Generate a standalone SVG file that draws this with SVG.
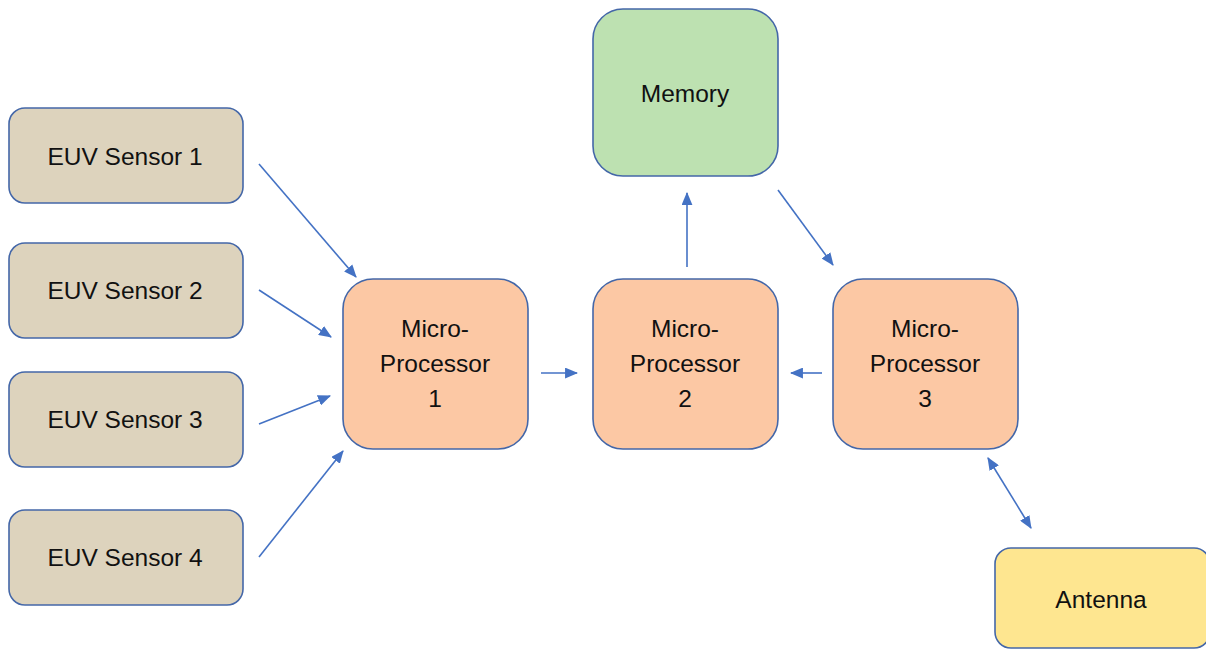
<svg xmlns="http://www.w3.org/2000/svg" width="1206" height="650" viewBox="0 0 1206 650">
  <style>
    .box { stroke: #4467A8; stroke-width: 1.6; }
    .sensor { fill: #DDD3BD; }
    .mp { fill: #FCC8A4; }
    .mem { fill: #BDE1B1; }
    .ant { fill: #FEE690; }
    .lbl { font-family: "Liberation Sans", Arial, sans-serif; font-size: 24.5px; fill: #111; text-anchor: middle; }
    .wire { stroke: #4472C4; stroke-width: 1.6; fill: none; }
  </style>
  <defs>
    <marker id="head" viewBox="0 0 12 10" refX="11" refY="5" markerWidth="13" markerHeight="11" markerUnits="userSpaceOnUse" orient="auto-start-reverse">
      <path d="M0,0 L12,5 L0,10 Z" fill="#4472C4"/>
    </marker>
  </defs>
  <rect width="1206" height="650" fill="#fff"/>

  <g id="sensor1">
    <rect class="box sensor" x="9" y="108" width="234" height="95" rx="16"/>
    <text class="lbl" x="125" y="165">EUV Sensor 1</text>
  </g>
  <g id="sensor2">
    <rect class="box sensor" x="9" y="243" width="234" height="95" rx="16"/>
    <text class="lbl" x="125" y="299">EUV Sensor 2</text>
  </g>
  <g id="sensor3">
    <rect class="box sensor" x="9" y="372" width="234" height="95" rx="16"/>
    <text class="lbl" x="125" y="428">EUV Sensor 3</text>
  </g>
  <g id="sensor4">
    <rect class="box sensor" x="9" y="510" width="234" height="95" rx="16"/>
    <text class="lbl" x="125" y="566">EUV Sensor 4</text>
  </g>

  <g id="mp1">
    <rect class="box mp" x="343" y="279" width="185" height="170" rx="30"/>
    <text class="lbl" x="435" y="337">Micro-</text>
    <text class="lbl" x="435" y="372">Processor</text>
    <text class="lbl" x="435" y="407">1</text>
  </g>
  <g id="mp2">
    <rect class="box mp" x="593" y="279" width="185" height="170" rx="30"/>
    <text class="lbl" x="685" y="337">Micro-</text>
    <text class="lbl" x="685" y="372">Processor</text>
    <text class="lbl" x="685" y="407">2</text>
  </g>
  <g id="mp3">
    <rect class="box mp" x="833" y="279" width="185" height="170" rx="30"/>
    <text class="lbl" x="925" y="337">Micro-</text>
    <text class="lbl" x="925" y="372">Processor</text>
    <text class="lbl" x="925" y="407">3</text>
  </g>

  <g id="memory">
    <rect class="box mem" x="593" y="9" width="185" height="167" rx="30"/>
    <text class="lbl" x="685" y="102">Memory</text>
  </g>

  <g id="antenna">
    <rect class="box ant" x="995" y="548" width="215" height="100" rx="16"/>
    <text class="lbl" x="1101" y="608">Antenna</text>
  </g>

  <g id="connectors">
    <line class="wire" x1="259" y1="164" x2="356" y2="277" marker-end="url(#head)"/>
    <line class="wire" x1="259" y1="290" x2="331" y2="337" marker-end="url(#head)"/>
    <line class="wire" x1="259" y1="424" x2="330" y2="396" marker-end="url(#head)"/>
    <line class="wire" x1="259" y1="557" x2="343" y2="451" marker-end="url(#head)"/>
    <line class="wire" x1="541" y1="373" x2="577" y2="373" marker-end="url(#head)"/>
    <line class="wire" x1="687" y1="267" x2="687" y2="193" marker-end="url(#head)"/>
    <line class="wire" x1="778" y1="190" x2="833" y2="265" marker-end="url(#head)"/>
    <line class="wire" x1="822" y1="373" x2="791" y2="373" marker-end="url(#head)"/>
    <line class="wire" x1="988" y1="458" x2="1031" y2="528" marker-start="url(#head)" marker-end="url(#head)"/>
  </g>
</svg>
